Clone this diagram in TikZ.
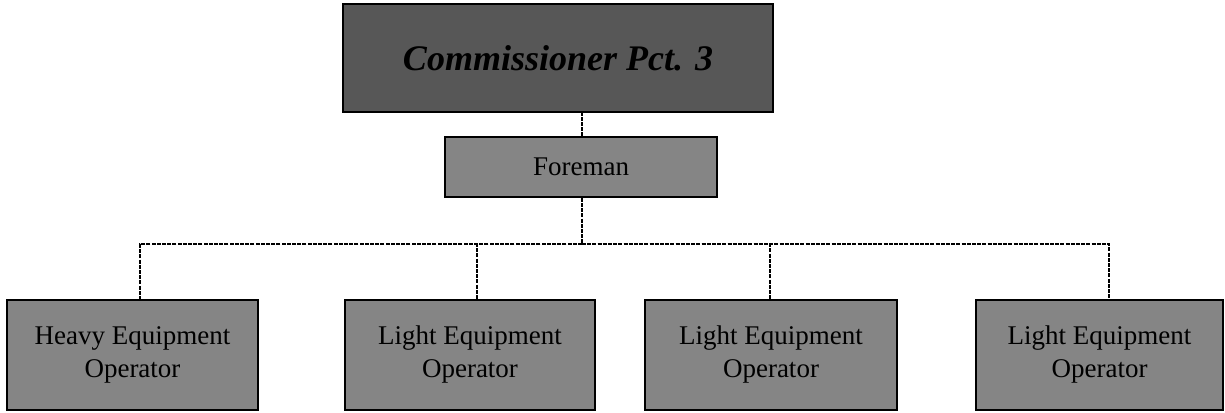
\documentclass[tikz,border=0pt]{standalone}
\usepackage{fontspec}
\setmainfont{Liberation Serif}
\begin{document}
\begin{tikzpicture}[x=0.5pt,y=-0.5pt,
  box/.style={draw=black, line width=0.7pt, fill=black!48, rectangle, inner sep=0pt, align=center, font=\fontsize{13.5}{16.5}\selectfont, text=black},
  topbox/.style={box, fill=black!66, font=\fontsize{18}{22}\selectfont\bfseries\itshape},
  link/.style={draw=black, line width=0.8pt, dash pattern=on 2pt off 0.6pt}
]
\useasboundingbox (0,0) rectangle (1225,412);
\node[topbox, minimum width=215pt, minimum height=54pt] (top) at (558,58) {Commissioner Pct. 3};
\node[box, minimum width=136pt, minimum height=30pt] (fore) at (581,167) {Foreman};
\node[box, minimum width=125.5pt, minimum height=55pt] (b1) at (132.5,355) {Heavy Equipment\\Operator};
\node[box, minimum width=125pt, minimum height=55pt] (b2) at (470,355) {Light Equipment\\Operator};
\node[box, minimum width=126pt, minimum height=55pt] (b3) at (771,355) {Light Equipment\\Operator};
\node[box, minimum width=123.5pt, minimum height=55pt] (b4) at (1099.5,355) {Light Equipment\\Operator};
\coordinate (j) at (582,244);
\path[link] (fore.north -| j) -- (top.south -| j);
\path[link] (fore.south -| j) -- (j);
\path[link] (j) -| ([xshift=3.75pt]b1.north);
\path[link] (j) -| ([xshift=3.5pt]b2.north);
\path[link] (j) -| ([xshift=-0.5pt]b3.north);
\path[link] (j) -| ([xshift=4.75pt]b4.north);
\end{tikzpicture}
\end{document}
